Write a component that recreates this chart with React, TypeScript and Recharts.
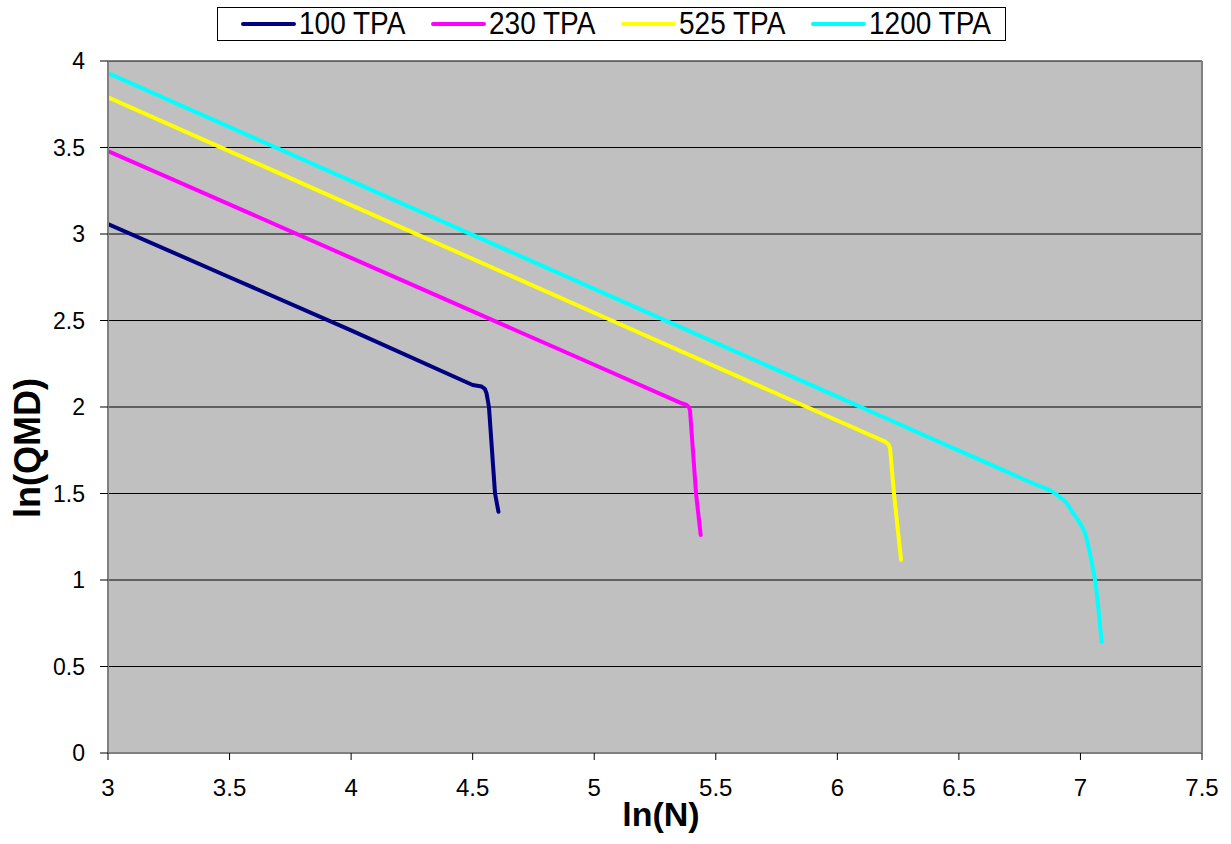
import React from "react";
import {
  LineChart,
  Line,
  XAxis,
  YAxis,
  CartesianGrid,
  Legend,
  Label,
  ReferenceLine,
} from "recharts";

// ln(N) / ln(QMD) pairs, one pair of arrays per stand density
const tpa100X = [3, 3.5, 4, 4.5, 4.537, 4.55, 4.557, 4.567, 4.592, 4.606];
const tpa100Y = [3.058, 2.75, 2.443, 2.127, 2.118, 2.105, 2.08, 2.0, 1.5, 1.395];

const tpa230X = [3, 4, 5, 5.353, 5.38, 5.39, 5.394, 5.419, 5.438];
const tpa230Y = [3.48, 2.862, 2.244, 2.025, 2.012, 1.998, 1.98, 1.497, 1.26];

const tpa525X = [3, 4, 5, 6, 6.196, 6.21, 6.217, 6.233, 6.262];
const tpa525Y = [3.79, 3.167, 2.545, 1.922, 1.8, 1.786, 1.76, 1.5, 1.116];

const tpa1200X = [3, 4, 5, 6, 6.5, 6.806, 6.896, 6.943, 6.971, 6.998, 7.019, 7.039, 7.05, 7.06, 7.087];
const tpa1200Y = [3.93, 3.307, 2.683, 2.06, 1.748, 1.558, 1.501, 1.443, 1.385, 1.328, 1.27, 1.154, 1.077, 1.0, 0.643];

const seriesNames = ["100 TPA", "230 TPA", "525 TPA", "1200 TPA"];
const seriesColors = ["#000080", "#FF00FF", "#FFFF00", "#00FFFF"];
// the 1200 TPA bend is smooth in the original, the others have a tight knee
const seriesCurves = ["linear", "linear", "linear", "monotone"] as const;

const xTicks = [3, 3.5, 4, 4.5, 5, 5.5, 6, 6.5, 7, 7.5];
const yTicks = [0, 0.5, 1, 1.5, 2, 2.5, 3, 3.5, 4];

const toPoints = (xs: number[], ys: number[]) => xs.map((x, i) => ({ x, y: ys[i] }));

const series = [
  toPoints(tpa100X, tpa100Y),
  toPoints(tpa230X, tpa230Y),
  toPoints(tpa525X, tpa525Y),
  toPoints(tpa1200X, tpa1200Y),
];

const FONT = "'Liberation Sans', Arial, sans-serif";

function LegendBox() {
  return (
    <div
      style={{
        boxSizing: "border-box",
        width: 789,
        height: 34,
        border: "1px solid #000",
        background: "#fff",
        display: "flex",
        alignItems: "center",
        paddingLeft: 23,
        fontFamily: FONT,
      }}
    >
      {seriesNames.map((name, i) => (
        <div key={name} style={{ display: "flex", alignItems: "center", width: 190 }}>
          <span
            style={{
              display: "inline-block",
              width: 55,
              height: 4,
              borderRadius: 2,
              background: seriesColors[i],
              marginRight: 3,
            }}
          />
          <span style={{ fontSize: 28, lineHeight: "30px", color: "#000", display: "inline-block", transform: "scaleY(1.15)" }}>
            {name}
          </span>
        </div>
      ))}
    </div>
  );
}

export default function App() {
  return (
    <div style={{ position: "absolute", left: 0, top: 0, width: 1231, height: 844, background: "#fff" }}>
      <LineChart
        width={1231}
        height={844}
        margin={{ top: 61, right: 29, bottom: 0, left: 0 }}
        style={{ fontFamily: FONT }}
      >
        <CartesianGrid vertical={false} stroke="#000" strokeWidth={1} fill="#C0C0C0" />
        <ReferenceLine x={7.5} stroke="#808080" strokeWidth={2} />
        <XAxis
          dataKey="x"
          type="number"
          domain={[3, 7.5]}
          ticks={xTicks}
          allowDataOverflow
          height={91}
          stroke="#808080"
          strokeWidth={2}
          tickLine={{ stroke: "#000", strokeWidth: 1 }}
          tickSize={7}
          tickMargin={19}
          tick={{ fill: "#000", fontSize: 24 }}
        >
          <Label
            value="ln(N)"
            position="center"
            dx={6}
            dy={15}
            style={{ fontSize: 34, fontWeight: "bold", fill: "#000" }}
          />
        </XAxis>
        <YAxis
          dataKey="y"
          type="number"
          domain={[0, 4]}
          ticks={yTicks}
          allowDataOverflow
          width={108}
          stroke="#808080"
          strokeWidth={2}
          tickLine={{ stroke: "#000", strokeWidth: 1 }}
          tickSize={8}
          tickMargin={15}
          tick={{ fill: "#000", fontSize: 23 }}
        >
          <Label
            content={() => (
              <text
                x={40}
                y={448}
                transform="rotate(-90 40 448)"
                textAnchor="middle"
                fontSize={36}
                fontWeight="bold"
                fill="#000"
                fontFamily={FONT}
              >
                ln(QMD)
              </text>
            )}
          />
        </YAxis>
        <Legend
          layout="horizontal"
          align="center"
          verticalAlign="middle"
          content={() => <LegendBox />}
          wrapperStyle={{ position: "absolute", left: 217, top: 7, width: 789, height: 34 }}
        />
        {series.map((pts, i) => (
          <Line
            key={seriesNames[i]}
            data={pts}
            dataKey="y"
            name={seriesNames[i]}
            type={seriesCurves[i]}
            stroke={seriesColors[i]}
            strokeWidth={4}
            strokeLinejoin="round"
            strokeLinecap="round"
            dot={false}
            activeDot={false}
            isAnimationActive={false}
          />
        ))}
      </LineChart>
    </div>
  );
}
